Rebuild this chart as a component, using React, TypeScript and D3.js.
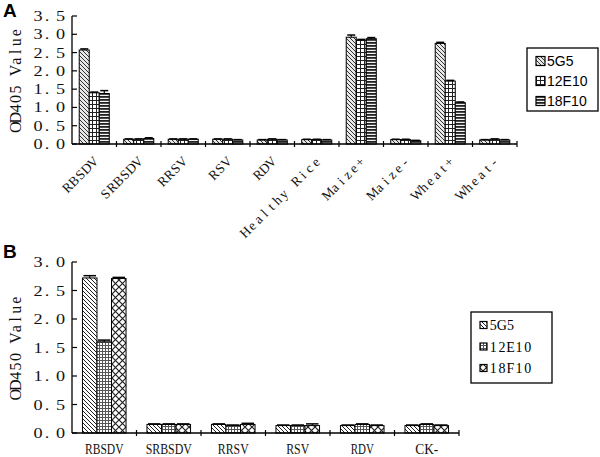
import React from "react";
import * as d3 from "d3";

// Panel A data
const catsA = ["RBSDV", "SRBSDV", "RRSV", "RSV", "RDV", "Healthy Rice", "Maize+", "Maize-", "Wheat+", "Wheat-"];
const a5G5 = [2.57, 0.13, 0.13, 0.13, 0.11, 0.12, 2.92, 0.12, 2.75, 0.11];
const a12E10 = [1.4, 0.13, 0.13, 0.13, 0.13, 0.12, 2.84, 0.12, 1.72, 0.13];
const a18F10 = [1.38, 0.15, 0.13, 0.11, 0.11, 0.11, 2.88, 0.09, 1.13, 0.11];
const errA5G5 = [0.03, 0.01, 0.01, 0.01, 0.01, 0.01, 0.06, 0.01, 0.03, 0.01];
const errA12E10 = [0.02, 0.01, 0.01, 0.01, 0.01, 0.01, 0.02, 0.01, 0.02, 0.01];
const errA18F10 = [0.08, 0.02, 0.01, 0.01, 0.01, 0.01, 0.03, 0.01, 0.02, 0.01];
const ticksA = [0, 0.5, 1.0, 1.5, 2.0, 2.5, 3.0, 3.5];

// Panel B data
const catsB = ["RBSDV", "SRBSDV", "RRSV", "RSV", "RDV", "CK-"];
const b5G5 = [2.72, 0.15, 0.15, 0.13, 0.13, 0.13];
const b12E10 = [1.6, 0.15, 0.13, 0.13, 0.15, 0.15];
const b18F10 = [2.71, 0.15, 0.15, 0.13, 0.13, 0.13];
const errB5G5 = [0.04, 0.01, 0.01, 0.01, 0.01, 0.01];
const errB12E10 = [0.03, 0.01, 0.01, 0.01, 0.01, 0.01];
const errB18F10 = [0.02, 0.01, 0.02, 0.03, 0.01, 0.01];
const ticksB = [0, 0.5, 1.0, 1.5, 2.0, 2.5, 3.0];

const seriesNames = ["5G5", "12E10", "18F10"];

// the original uses a fixed-pitch serif (SimSun-like); faked by placing each glyph in its own cell
const SERIF = "'Liberation Serif', 'DejaVu Serif', serif";
const SANS = "'Liberation Sans', Arial, sans-serif";

// x positions of glyph centres for a fixed pitch string starting at x0
function cells(str: string, x0: number, pitch: number) {
  return str
    .split("")
    .map((_, i) => (x0 + (i + 0.5) * pitch).toFixed(2))
    .join(" ");
}

function Patterns() {
  return (
    <defs>
      {/* panel A */}
      <pattern id="pa0" width="4" height="4" patternUnits="userSpaceOnUse">
        <rect width="4" height="4" fill="#e8e8e8" />
        <path d="M-1,-1 L5,5 M-1,3 L1,5 M3,-1 L5,1" stroke="#333" strokeWidth="1" />
      </pattern>
      <pattern id="pa1" width="4" height="4" patternUnits="userSpaceOnUse">
        <rect width="4" height="4" fill="#fff" />
        <path d="M0,0.5 H4 M0.5,0 V4" stroke="#222" strokeWidth="1" />
      </pattern>
      <pattern id="pa2" width="4" height="3" patternUnits="userSpaceOnUse">
        <rect width="4" height="3" fill="#f4f4f4" />
        <rect width="4" height="1.8" fill="#222" />
      </pattern>
      {/* panel B */}
      <pattern id="pb0" width="4" height="4" patternUnits="userSpaceOnUse">
        <rect width="4" height="4" fill="#fff" />
        <path d="M-1,-1 L5,5 M-1,3 L1,5 M3,-1 L5,1" stroke="#222" strokeWidth="1" />
      </pattern>
      <pattern id="pb1" width="3" height="3" patternUnits="userSpaceOnUse">
        <rect width="3" height="3" fill="#fff" />
        <path d="M0,0.5 H3 M0.5,0 V3" stroke="#555" strokeWidth="1" />
      </pattern>
      <pattern id="pb2" width="7" height="7" patternUnits="userSpaceOnUse">
        <rect width="7" height="7" fill="#fff" />
        <path d="M0,0 L7,7 M7,0 L0,7" stroke="#222" strokeWidth="1.2" />
      </pattern>
    </defs>
  );
}

type PanelProps = {
  cats: string[];
  values: number[][];
  errs: number[][];
  ticks: number[];
  yMax: number;
  left: number;
  right: number;
  top: number;
  bottom: number;
  fills: string[];
  title: string;
  letter: string;
  letterY: number;
  rotated: boolean;
  legend: { x: number; y: number; w: number; h: number; sw: number; fs: number; gap: number; font: string; pitch: number };
};

function Panel(p: PanelProps) {
  const x = d3.scaleBand<string>().domain(p.cats).range([p.left, p.right]).padding(0);
  const bw = x.bandwidth();
  const xs = d3.scaleBand<string>().domain(seriesNames).range([0, bw]).paddingInner(0).paddingOuter(0.72);
  const y = d3.scaleLinear().domain([0, p.yMax]).range([p.bottom, p.top]);
  const boundaries = d3.range(p.cats.length + 1).map((i) => p.left + i * bw);
  const mid = (p.top + p.bottom) / 2;
  const sx = 1.3;

  return (
    <g>
      <text x={3} y={p.letterY} fontFamily={SANS} fontWeight="bold" fontSize={19}>
        {p.letter}
      </text>
      <text
        transform={`translate(21,${mid}) rotate(-90)`}
        x={cells(p.title, -52, 104 / p.title.length)}
        textAnchor="middle"
        fontFamily={SERIF}
        fontSize={16}
        fill="#111"
      >
        {p.title}
      </text>
      {/* y axis */}
      <line x1={p.left} x2={p.left} y1={y(p.yMax)} y2={p.bottom} stroke="#000" strokeWidth={1.3} />
      {p.ticks.map((t) => {
        const label = t.toFixed(1);
        return (
          <g key={t}>
            <line x1={p.left} x2={p.left + 5} y1={y(t)} y2={y(t)} stroke="#000" strokeWidth={1.2} />
            <text
              transform={`translate(0,${y(t) + 5}) scale(${sx},1)`}
              x={[38 / sx, 47 / sx, 60.5 / sx].map((v) => v.toFixed(2)).join(" ")}
              textAnchor="middle"
              fontFamily={SERIF}
              fontSize={14}
              fill="#111"
            >
              {label}
            </text>
          </g>
        );
      })}
      {/* bars */}
      {p.values.map((vals, si) =>
        vals.map((v, ci) => {
          const bx = (x(p.cats[ci]) as number) + (xs(seriesNames[si]) as number);
          const w = xs.bandwidth();
          const e = p.errs[si][ci];
          const cx = bx + w / 2;
          return (
            <g key={`${si}-${ci}`}>
              <rect x={bx} y={y(v)} width={w} height={p.bottom - y(v)} fill={`url(#${p.fills[si]})`} stroke="#000" strokeWidth={1} />
              <line x1={cx} x2={cx} y1={y(v + e)} y2={y(v)} stroke="#000" strokeWidth={1.2} />
              <line x1={cx - w / 2 + 1} x2={cx + w / 2 - 1} y1={y(v + e)} y2={y(v + e)} stroke="#000" strokeWidth={1.5} />
            </g>
          );
        })
      )}
      {/* x axis */}
      <line x1={p.left} x2={p.right} y1={p.bottom} y2={p.bottom} stroke="#000" strokeWidth={1.3} />
      {boundaries.slice(1).map((bx, i) => (
        <line key={i} x1={bx} x2={bx} y1={p.bottom - 3} y2={p.bottom + 3} stroke="#000" strokeWidth={1.2} />
      ))}
      {p.cats.map((c) => {
        const cx = (x(c) as number) + bw / 2;
        return p.rotated ? (
          <text
            key={c}
            transform={`translate(${cx + 5},${p.bottom + 18}) rotate(-45)`}
            x={cells(c, -c.length * 9, 9)}
            textAnchor="middle"
            fontFamily={SERIF}
            fontSize={13.5}
            fill="#111"
          >
            {c}
          </text>
        ) : (
          <text
            key={c}
            x={cx - (c.length * 7.7) / 2}
            y={p.bottom + 21}
            fontFamily={SERIF}
            fontSize={15}
            textLength={c.length * 7.7}
            lengthAdjust="spacingAndGlyphs"
            fill="#111"
          >
            {c}
          </text>
        );
      })}
      {/* legend */}
      <rect x={p.legend.x} y={p.legend.y} width={p.legend.w} height={p.legend.h} fill="#fff" stroke="#000" strokeWidth={1.3} />
      {seriesNames.map((s, i) => {
        const ly = p.legend.y + 13 + i * p.legend.gap;
        const tx = p.legend.x + 11 + p.legend.sw;
        return (
          <g key={s}>
            <rect
              x={p.legend.x + 9}
              y={ly - p.legend.sw / 2}
              width={p.legend.sw}
              height={p.legend.sw}
              fill={`url(#${p.fills[i]})`}
              stroke="#000"
              strokeWidth={1.2}
            />
            <text
              x={p.legend.pitch ? cells(s, tx, p.legend.pitch) : tx}
              y={ly + 5}
              textAnchor={p.legend.pitch ? "middle" : "start"}
              fontFamily={p.legend.font}
              fontSize={p.legend.fs}
            >
              {s}
            </text>
          </g>
        );
      })}
    </g>
  );
}

export default function App() {
  return (
    <svg width={600} height={457} style={{ position: "absolute", left: 0, top: 0, background: "#fff" }}>
      <Patterns />
      <Panel
        cats={catsA}
        values={[a5G5, a12E10, a18F10]}
        errs={[errA5G5, errA12E10, errA18F10]}
        ticks={ticksA}
        yMax={3.5}
        left={72}
        right={517}
        top={16}
        bottom={144}
        fills={["pa0", "pa1", "pa2"]}
        title="OD405 Value"
        letter="A"
        letterY={17}
        rotated={true}
        legend={{ x: 527, y: 48, w: 71, h: 63, sw: 9, fs: 14, gap: 20, font: SANS, pitch: 0 }}
      />
      <Panel
        cats={catsB}
        values={[b5G5, b12E10, b18F10]}
        errs={[errB5G5, errB12E10, errB18F10]}
        ticks={ticksB}
        yMax={3.0}
        left={72}
        right={459}
        top={262}
        bottom={433}
        fills={["pb0", "pb1", "pb2"]}
        title="OD450 Value"
        letter="B"
        letterY={258}
        rotated={false}
        legend={{ x: 471, y: 312, w: 81, h: 71, sw: 7, fs: 14, gap: 21.5, font: SERIF, pitch: 8.6 }}
      />
    </svg>
  );
}
